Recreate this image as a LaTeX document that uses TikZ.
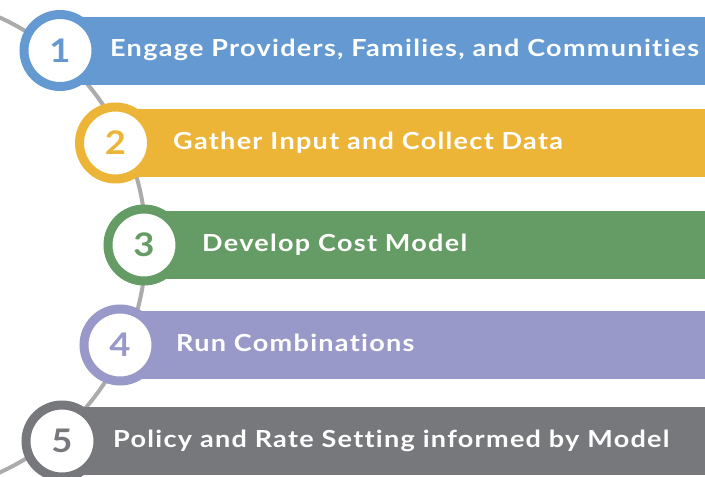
\documentclass[tikz,border=0pt]{standalone}
\usepackage{fontspec}
\setmainfont{Lato}[FakeStretch=1.12]
\newfontfamily\steplabelfont{Lato}[FakeStretch=1.15,LetterSpace=5.5,Ligatures=NoCommon]
\usetikzlibrary{positioning}

\definecolor{EngageBlue}{HTML}{6499D1}
\definecolor{GatherGold}{HTML}{EDB537}
\definecolor{ModelGreen}{HTML}{659B64}
\definecolor{RunPurple}{HTML}{9999C9}
\definecolor{PolicyGray}{HTML}{77787C}
\definecolor{TrackGray}{HTML}{ABABAB}

\begin{document}
\begin{tikzpicture}
    [
        x=1pt,y=-1pt,
        Track/.style={draw=TrackGray,line width=4pt},
        Bar/.style={rectangle,anchor=west,minimum height=68pt,inner sep=0pt},
        Ring/.style={circle,minimum size=72pt,line width=9pt,fill=white,inner sep=0pt,font=\fontsize{32.5}{33}\selectfont\bfseries},
        Label/.style={anchor=base west,text=white,inner sep=0pt,font=\steplabelfont\fontsize{23.5}{24}\selectfont\bfseries}
    ]
    \useasboundingbox (0,0) rectangle (705,477);
    \clip (0,0) rectangle (705,477);

    % curved track behind the rings
    \draw[Track] (-104,245) ++(-70:250) arc (-70:70:250);

    \node[Bar,fill=EngageBlue,minimum width=645pt] (bar1) at (60,50.5) {};
    \node[Bar,fill=GatherGold,minimum width=590pt] (bar2) at (115.5,143) {};
    \node[Bar,fill=ModelGreen,minimum width=561pt] (bar3) at (144,245) {};
    \node[Bar,fill=RunPurple,minimum width=585pt] (bar4) at (120,345) {};
    \node[Bar,fill=PolicyGray,minimum width=643pt] (bar5) at (62,441) {};

    \node[Ring,draw=EngageBlue,text=EngageBlue] (ring1) at (bar1.west) {1};
    \node[Ring,draw=GatherGold,text=GatherGold] (ring2) at (bar2.west) {2};
    \node[Ring,draw=ModelGreen,text=ModelGreen] (ring3) at (bar3.west) {3};
    \node[Ring,draw=RunPurple,text=RunPurple] (ring4) at (bar4.west) {4};
    \node[Ring,draw=PolicyGray,text=PolicyGray] (ring5) at (bar5.west) {5};

    \node[Label] (label1) at (110,56) {Engage Providers, Families, and Communities};
    \node[Label] (label2) at (173,149) {Gather Input and Collect Data};
    \node[Label] (label3) at (202,251) {Develop Cost Model};
    \node[Label] (label4) at (176,351) {Run Combinations};
    \node[Label] (label5) at (113,447) {Policy and Rate Setting informed by Model};
\end{tikzpicture}
\end{document}
